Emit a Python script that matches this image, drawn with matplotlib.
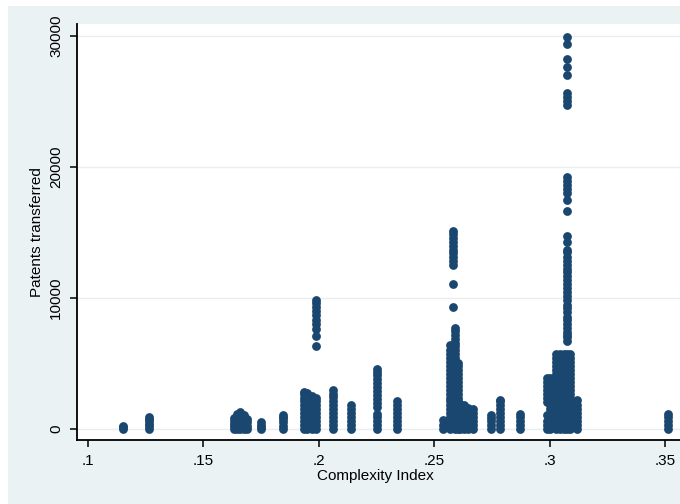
import matplotlib
matplotlib.use("Agg")
import matplotlib.pyplot as plt
from matplotlib.patches import Rectangle

# ---- data: one entry per column of observations ----
column_x = [0.1150, 0.1265, 0.1630, 0.1645, 0.1660, 0.1675, 0.1690, 0.1750, 0.1845,
            0.1935, 0.1950, 0.1970, 0.1985, 0.2060, 0.2140, 0.2250, 0.2338,
            0.2536, 0.2568, 0.2578, 0.2588, 0.2600, 0.2612, 0.2628, 0.2645, 0.2665,
            0.2745, 0.2783, 0.2870, 0.2985, 0.3000, 0.3025, 0.3042, 0.3060, 0.3073,
            0.3086, 0.3115, 0.3512]

column_y = [
    [0, 120, 250],
    [0, 200, 400, 600, 800, 950],
    [0, 200, 400, 600, 850],
    [0, 250, 500, 750, 1000, 1150],
    [0, 250, 500, 750, 1000, 1300],
    [0, 250, 500, 750, 1050],
    [0, 250, 500, 800],
    [0, 150, 300, 500],
    [0, 250, 500, 750, 950, 1100],
    [0, 300, 600, 900, 1200, 1500, 1800, 2100, 2400, 2650, 2850],
    [0, 300, 600, 900, 1200, 1500, 1800, 2100, 2400, 2750],
    [0, 300, 600, 900, 1200, 1500, 1800, 2100, 2500],
    [0, 300, 600, 900, 1200, 1500, 1800, 2100, 2350,
     6300, 7100, 7600, 8000, 8300, 8700, 9000, 9300, 9600, 9850],
    [0, 300, 600, 900, 1200, 1500, 1850, 2150, 2450, 2700, 2950],
    [0, 300, 600, 900, 1200, 1500, 1800],
    [0, 300, 600, 900, 1150, 1700, 2000, 2300, 2600, 2900, 3200, 3500, 3800, 4100, 4350, 4550],
    [0, 300, 600, 900, 1200, 1500, 1800, 2150],
    [0, 300, 650],
    [0, 300, 600, 900, 1200, 1500, 1800, 2100, 2400, 2700, 3000, 3300, 3600, 3900,
     4200, 4500, 4800, 5100, 5400, 5700, 6000, 6400],
    [9300, 11100, 12500, 12800, 13100, 13400, 13700, 14000, 14300, 14600, 14900, 15150],
    [0, 300, 600, 900, 1200, 1500, 1800, 2100, 2400, 2700, 3000, 3300, 3600, 3900,
     4200, 4500, 4800, 5100, 5400, 5700, 6000, 6300, 6600, 6900, 7200, 7500, 7700],
    [0, 300, 600, 900, 1200, 1500, 1800, 2100, 2400, 2700, 3000, 3300, 3600, 3900,
     4200, 4500, 4800, 5000],
    [0, 300, 600, 900, 1200, 1500, 1900],
    [0, 300, 600, 900, 1200, 1500, 1800],
    [0, 300, 600, 900, 1200, 1600],
    [0, 300, 600, 900, 1200, 1500],
    [0, 300, 600, 850, 1050],
    [0, 300, 600, 950, 1250, 1550, 1850, 2100, 2250],
    [0, 300, 600, 900, 1150],
    [0, 300, 600, 1050, 2050, 2350, 2650, 3000, 3300, 3600, 3900],
    [0, 300, 600, 900, 1200, 1500, 1800, 2100, 2400, 2700, 3200, 3500, 3900],
    [0, 300, 600, 900, 1200, 1500, 1800, 2100, 2400, 2700, 3000, 3300, 3600, 3900,
     4200, 4500, 4800, 5100, 5400, 5750],
    [0, 300, 600, 900, 1200, 1500, 1800, 2100, 2400, 2700, 3000, 3300, 3600, 3900,
     4200, 4500, 4800, 5100, 5300, 5760],
    [0, 300, 600, 900, 1200, 1500, 1800, 2100, 2400, 2700, 3000, 3300, 3600, 3900,
     4200, 4500, 4800, 5100, 5400, 5760],
    [0, 300, 600, 900, 1200, 1500, 1800, 2100, 2400, 2700, 3000, 3300, 3600, 3900,
     4200, 4500, 4800, 5100, 5400, 5760,
     6700, 7000, 7200, 7400, 7700, 8000, 8300, 8550, 8900, 9250, 9500, 9850, 10150,
     10450, 10750, 11050, 11350, 11650, 11950, 12250, 12550, 12850, 13100, 13500,
     13700, 14300, 14700, 16650, 17500, 18000, 18300, 18600, 18900, 19250,
     24750, 25050, 25350, 25650, 27000, 27650, 28250, 29400, 29950],
    [0, 300, 600, 900, 1200, 1500, 1800, 2100, 2400, 2700, 3000, 3300, 3600, 3900,
     4200, 4500, 4800, 5100, 5400, 5760],
    [0, 300, 600, 900, 1200, 1500, 1800, 2200],
    [0, 300, 600, 900, 1150],
]

x_ticks = [0.10, 0.15, 0.20, 0.25, 0.30, 0.35]
x_tick_labels = [".1", ".15", ".2", ".25", ".3", ".35"]
y_ticks = [0, 10000, 20000, 30000]
y_tick_labels = ["0", "10000", "20000", "30000"]
x_label = "Complexity Index"
y_label = "Patents transferred"

# ---- flatten ----
xs, ys = [], []
for cx, cys in zip(column_x, column_y):
    for v in cys:
        xs.append(cx)
        ys.append(v)

plt.rcParams['font.family'] = ['Liberation Sans', 'DejaVu Sans']

W, H = 680, 504
fig = plt.figure(figsize=(W / 100, H / 100), dpi=100)
fig.patch.set_facecolor('white')
fig.add_artist(Rectangle((8 / W, 0), 1 - 8 / W, 1 - 6 / H, transform=fig.transFigure,
                         facecolor='#eaf2f3', edgecolor='none', zorder=0))

left, top, right, bottom = 77, 24, 680, 440
ax = fig.add_axes([left / W, 1 - bottom / H, (right - left) / W, (bottom - top) / H])
ax.set_facecolor('white')

navy = '#1a476f'
ax.scatter(xs, ys, s=40, color=navy, linewidths=0, zorder=3)

ax.set_xlim(0.09524, 0.35628)
ax.set_ylim(-840, 30916)

ax.set_xticks(x_ticks)
ax.set_xticklabels(x_tick_labels, fontsize=11)
ax.set_yticks(y_ticks)
ax.set_yticklabels(y_tick_labels, fontsize=11, rotation=90, va='center')

ax.yaxis.grid(True, color='#e8eef0', linewidth=1.0, zorder=0)
ax.xaxis.grid(False)

for s in ['top', 'right']:
    ax.spines[s].set_visible(False)
for s in ['left', 'bottom']:
    ax.spines[s].set_color('black')
    ax.spines[s].set_linewidth(1.3)

ax.tick_params(axis='both', direction='out', length=5, width=1.1, color='black',
               labelcolor='black')
ax.tick_params(axis='x', pad=5)
ax.tick_params(axis='y', pad=5)

fig.text(375 / W, 1 - 476 / H, x_label, ha='center', va='center', fontsize=11)
fig.text(37 / W, 1 - 232 / H, y_label, ha='center', va='center', fontsize=11, rotation=90)

fig.savefig('out.png', dpi=100, facecolor=fig.get_facecolor())
